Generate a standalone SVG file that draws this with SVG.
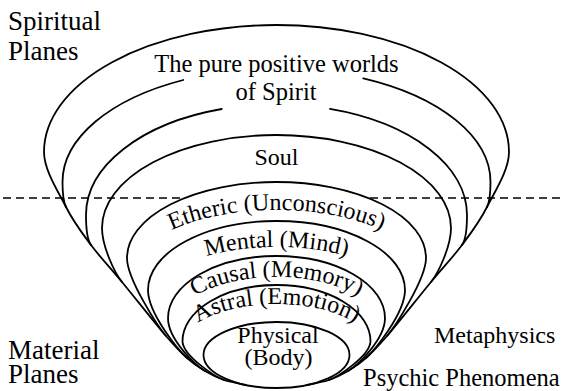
<svg xmlns="http://www.w3.org/2000/svg" width="561" height="391" viewBox="0 0 561 391">
<style>
.ln{fill:none;stroke:#000;stroke-width:1.8;stroke-linecap:round;stroke-linejoin:round}
.dash{fill:none;stroke:#000;stroke-width:1.6;stroke-dasharray:8 5}
</style>
<rect width="561" height="391" fill="#fff"/>

<g id="boundary">
<path class="dash" d="M 3,198 H 184.7 M 370,198 H 561"/>
</g>

<g id="envelope">
<path class="ln" d="M 246.1,385 C 238.7,383.47 230.85,382.33 224,380 C 217.15,377.67 211.17,374.67 205,371 C 198.83,367.33 193.5,363.83 187,358 C 180.5,352.17 176.83,348.67 166,336 C 155.17,323.33 134.5,297.17 122,282 C 109.5,266.83 100.33,257.5 91,245 C 81.67,232.5 73.83,222.5 66,207"/>
<path class="ln" d="M 306.9,385 C 314.3,383.47 322.15,382.33 329,380 C 335.85,377.67 341.83,374.67 348,371 C 354.17,367.33 359.5,363.83 366,358 C 372.5,352.17 376.17,348.67 387,336 C 397.83,323.33 418.5,297.17 431,282 C 443.5,266.83 452.67,257.5 462,245 C 471.33,232.5 479.17,222.5 487,207"/>
</g>

<g id="spiritual-outer">
<path class="ln" d="M 66,207 C 58.17,191.5 44,170 44,152 A 232.5 127 0 0 1 276.5,25 A 232.5 127 0 0 1 509,152 C 509,170 494.83,191.5 487,207"/>
</g>

<g id="pure-positive-worlds">
<path class="ln" d="M 66,207 C 62.8,200.7 62.5,190 62.5,182 A 214 113.4 0 0 1 183.3,80 M 363.3,78.3 A 214 113.4 0 0 1 490.5,182 C 490.5,190 490.2,200.7 487,207"/>
<text x="276.5" y="72" text-anchor="middle" font-family="Liberation Serif" font-size="24.5">The pure positive worlds</text>
</g>

<g id="spirit">
<path class="ln" d="M 91,245 C 86.2,238.6 86,225 86,215 A 190.5 110.6 0 0 1 221.7,109 M 330,108.9 A 190.5 110.6 0 0 1 467,215 C 467,225 466.8,238.6 462,245"/>
<text x="276" y="100" text-anchor="middle" font-family="Liberation Serif" font-size="24.5">of Spirit</text>
</g>

<g id="soul">
<path class="ln" d="M 122,282 C 114.4,272.7 102,246 102,228 A 174.5 93 0 0 1 276.5,135 A 174.5 93 0 0 1 451,228 C 451,246 438.6,272.7 431,282"/>
<text x="276.5" y="165" text-anchor="middle" font-family="Liberation Serif" font-size="24">Soul</text>
</g>

<g id="etheric">
<path class="ln" d="M 166,336 C 159.5,328.4 127,280 127,258 A 149.5 76 0 0 1 276.5,182 A 149.5 76 0 0 1 426,258 C 426,280 393.5,328.4 387,336"/>
<text font-family="Liberation Serif" font-size="24" x="171.4 185.0 191.3 202.8 213.3 221.1 227.7 238.2 244.2 252.2 269.5 281.5 292.2 304.2 316.1 325.4 335.9 342.3 354.0 365.5 374.2" y="229.9 224.5 222.3 219.0 216.5 214.9 213.8 212.3 211.6 210.8 210.0 210.0 210.3 211.1 212.4 213.8 215.7 217.0 220.0 223.6 226.9" rotate="-22.1 -18.8 -16.3 -13.5 -11.4 -9.8 -8.1 -6.5 -5.1 -2.8 -0.2 1.8 3.9 6.1 8.2 10.2 12.1 14.2 17.3 20.4 23.3">Etheric (Unconscious)</text>
</g>

<g id="mental">
<path class="ln" d="M 187,358 C 179.6,351.3 148,314 148,290 A 128.5 69 0 0 1 276.5,221 A 128.5 69 0 0 1 405,290 C 405,314 373.4,351.3 366,358"/>
<text font-family="Liberation Serif" font-size="24" x="206.2 227.0 237.6 249.5 256.2 266.8 273.5 279.5 287.5 308.8 315.5 327.3 339.0" y="256.0 251.3 249.6 248.3 247.7 247.1 247.0 247.0 247.0 248.8 249.6 251.6 254.1" rotate="-13.0 -9.2 -6.7 -4.8 -3.0 -1.3 0 1.4 4.3 7.3 9.3 12.2 14.8">Mental (Mind)</text>
</g>

<g id="causal">
<path class="ln" d="M 205,371 C 196.4,365.9 168,340 168,318 A 108.5 62 0 0 1 276.5,256 A 108.5 62 0 0 1 385,318 C 385,340 356.6,365.9 348,371"/>
<text font-family="Liberation Serif" font-size="24" x="194.4 208.9 218.9 230.5 239.7 250.2 256.9 262.8 270.8 292.2 302.8 321.2 332.8 340.4 351.5" y="295.7 288.9 285.3 282.1 280.2 278.6 278.0 277.4 276.8 277.5 278.4 281.8 284.9 287.4 292.2" rotate="-25.8 -19.7 -15.4 -11.8 -8.8 -6.3 -4.5 -2.6 1.3 5.7 10.0 14.9 18.6 22.9 28.0">Causal (Memory)</text>
</g>

<g id="astral">
<path class="ln" d="M 224,380 C 216.4,377.4 182.5,356 182.5,341 A 94 56 0 0 1 276.5,285 A 94 56 0 0 1 370.5,341 C 370.5,356 336.6,377.4 329,380"/>
<text font-family="Liberation Serif" font-size="24" x="197.8 213.4 222.2 228.6 236.4 246.9 253.5 259.5 267.5 282.2 300.8 312.7 319.2 325.7 337.2 348.1" y="322.5 314.9 311.8 309.9 308.0 306.2 305.4 304.7 304.1 303.9 305.4 307.3 308.6 310.2 313.9 318.8" rotate="-27.0 -19.8 -16.3 -13.5 -10.3 -7.6 -5.5 -3.7 -0.5 4.2 8.8 11.9 14.2 18.0 23.9 30.2">Astral (Emotion)</text>
</g>

<g id="physical">
<ellipse class="ln" cx="276.5" cy="355" rx="73" ry="33"/>
<text x="278" y="343" text-anchor="middle" font-family="Liberation Serif" font-size="24">Physical</text>
<text x="278.5" y="365" text-anchor="middle" font-family="Liberation Serif" font-size="24">(Body)</text>
</g>

<g id="side-labels">
<text x="8" y="30" font-family="Liberation Serif" font-size="27">Spiritual</text>
<text x="8" y="60" font-family="Liberation Serif" font-size="27">Planes</text>
<text x="8" y="359" font-family="Liberation Serif" font-size="27">Material</text>
<text x="8" y="383" font-family="Liberation Serif" font-size="27">Planes</text>
<text x="434" y="343" font-family="Liberation Serif" font-size="24">Metaphysics</text>
<text x="363" y="386" font-family="Liberation Serif" font-size="24.5">Psychic Phenomena</text>
</g>
</svg>
